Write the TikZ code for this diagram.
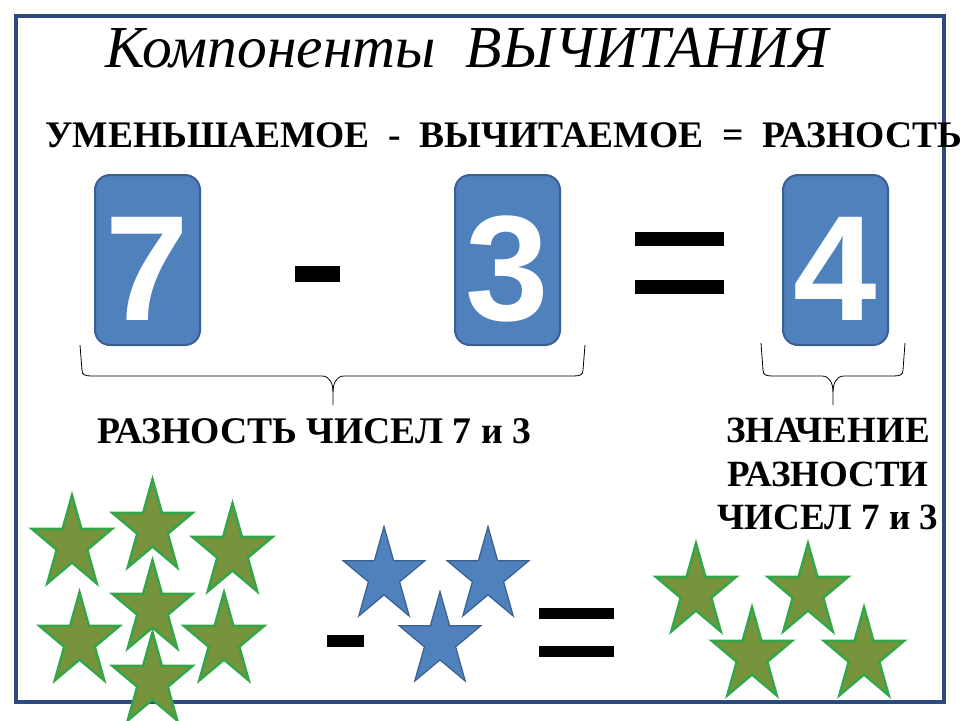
\documentclass[tikz,border=0pt]{standalone}
\usepackage{fontspec}
\setmainfont{Liberation Serif}
\newfontfamily\digitfont{Liberation Sans}
\usetikzlibrary{positioning}

\definecolor{framenavy}{RGB}{44,74,124}
\definecolor{cardblue}{RGB}{79,129,189}
\definecolor{cardedge}{RGB}{58,96,146}
\definecolor{starolive}{RGB}{119,147,60}
\definecolor{stargreen}{RGB}{52,166,74}

\begin{document}
\begin{tikzpicture}[
    x=1pt, y=-1pt,
    card/.style={draw=cardedge, line width=2pt, fill=cardblue, rounded corners=15pt,
      minimum width=105pt, minimum height=170pt, inner sep=0pt, text=white,
      text height=121pt, text depth=0pt,
      font=\digitfont\bfseries\fontsize{150pt}{150pt}\selectfont},
    bar/.style={fill=black, inner sep=0pt},
    brc/.style={line width=0.8pt},
    lbl/.style={font=\bfseries\fontsize{37pt}{43.5pt}\selectfont, inner sep=0pt},
    gstar/.style={fill=starolive, draw=stargreen, line width=2.5pt},
    bstar/.style={fill=cardblue, draw=cardedge, line width=1.2pt},
  ]
  \fill[white] (0,0) rectangle (960,720);
  \useasboundingbox (0,0) rectangle (960,720);
  \draw[framenavy, line width=4pt] (16,16) rectangle (943.5,701.5);

  % headings
  \node[anchor=base west, inner sep=0pt, font=\itshape\fontsize{59.5pt}{60pt}\selectfont]
    (title) at (105,67) {Компоненты\ \ ВЫЧИТАНИЯ};
  \node[lbl, anchor=base west, font=\bfseries\fontsize{37.5pt}{37.5pt}\selectfont]
    (rule) at (45,147) {УМЕНЬШАЕМОЕ\ \ -\ \ ВЫЧИТАЕМОЕ\ \ =\ \ РАЗНОСТЬ};

  % 7 - 3 = 4
  \node[card] (minu) at (147.5,260) {7};
  \node[card] (subt) at (507.5,260) {3};
  \node[card] (diff) at (835.5,260) {4};
  \node[bar, minimum width=45pt, minimum height=16pt] (minus) at (317.5,274) {};
  \node[bar, minimum width=89pt, minimum height=14pt] (eqtop) at (679.5,239) {};
  \node[bar, minimum width=89pt, minimum height=14pt] (eqbot) at (679.5,287) {};

  % braces
  \coordinate (lbA) at (80,345);  \coordinate (lbB) at (585,345);  \coordinate (lbT) at (333,405);
  \coordinate (rbA) at (761,343); \coordinate (rbB) at (905,343);  \coordinate (rbT) at (833,405);
  \draw[brc] (lbA) -- (82,370) .. controls (82,375) and (85,376) .. (92,376) -- (322,376)
    .. controls (330,376) and (333,384) .. (333,392) -- (lbT);
  \draw[brc] (lbB) -- (583,370) .. controls (583,375) and (580,376) .. (573,376) -- (344,376)
    .. controls (336,376) and (333,384) .. (333,392);
  \draw[brc] (rbA) -- (763,370) .. controls (763,375) and (766,376) .. (773,376) -- (822,376)
    .. controls (830,376) and (833,384) .. (833,392) -- (rbT);
  \draw[brc] (rbB) -- (903,370) .. controls (903,375) and (900,376) .. (893,376) -- (844,376)
    .. controls (836,376) and (833,384) .. (833,392);

  \node[lbl, anchor=base west, font=\bfseries\fontsize{37.6pt}{43.5pt}\selectfont]
    (difflbl) at (97,443) {РАЗНОСТЬ ЧИСЕЛ 7 и 3};
  \node[lbl, anchor=north, align=center] (vallbl) at (828,418) {ЗНАЧЕНИЕ\\РАЗНОСТИ\\ЧИСЕЛ 7 и 3};

  % stars
  \foreach \cx/\cy in {72/544, 152.5/528, 232.5/552, 79.5/641, 152.5/609, 224/641, 152.5/681,
                       696/592, 808/592, 752/656, 864/656}
    \path[gstar, shift={(\cx,\cy)}, x=42pt, y=-48.6pt]
      (-90:1) \foreach \k in {1,...,9} { -- ({-90+36*\k}:{1-0.618*mod(\k,2)}) } -- cycle;
  \foreach \cx/\cy in {384/576, 488/576, 440/641}
    \path[bstar, shift={(\cx,\cy)}, x=43pt, y=-49.5pt]
      (-90:1) \foreach \k in {1,...,9} { -- ({-90+36*\k}:{1-0.618*mod(\k,2)}) } -- cycle;
  \node[bar, minimum width=37pt, minimum height=12pt] (sminus) at (345.5,641) {};
  \node[bar, minimum width=75pt, minimum height=11pt] (seqtop) at (576.5,613.5) {};
  \node[bar, minimum width=75pt, minimum height=11pt] (seqbot) at (576.5,651.5) {};
\end{tikzpicture}
\end{document}
